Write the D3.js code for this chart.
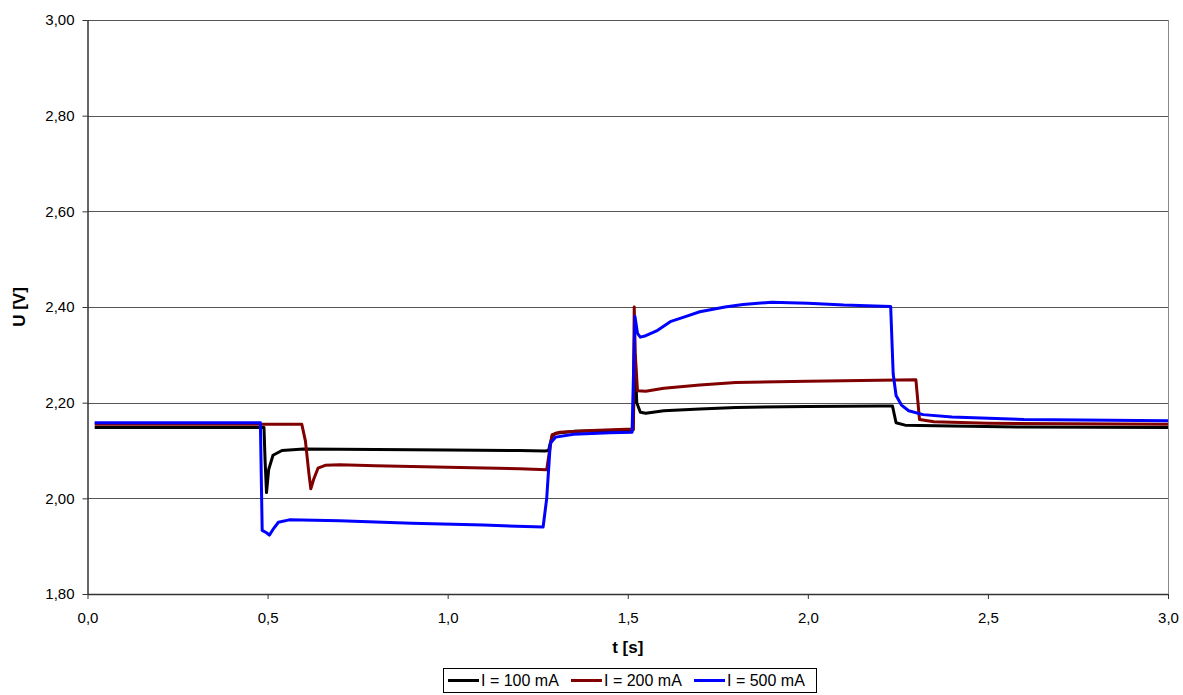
<!DOCTYPE html>
<html>
<head>
<script src="https://d3js.org/d3.v7.min.js"></script>
<style>
  body { margin: 0; background: #fff; }
  text { font-family: "Liberation Sans", Arial, sans-serif; }
</style>
</head>
<body>
<svg id="chart" width="1183" height="695"></svg>
<script>
// time [s] and voltage [V] for each current
var t100 = [0.02, 0.49, 0.493, 0.497, 0.503, 0.515, 0.54, 0.6, 0.8, 1.0, 1.2, 1.27, 1.28, 1.29, 1.30, 1.35, 1.45, 1.515, 1.52, 1.525, 1.535, 1.55, 1.6, 1.7, 1.8, 2.0, 2.2, 2.235, 2.245, 2.27, 2.4, 2.6, 3.0];
var u100 = [2.148, 2.148, 2.08, 2.012, 2.06, 2.09, 2.10, 2.103, 2.102, 2.101, 2.100, 2.099, 2.10, 2.13, 2.136, 2.14, 2.142, 2.143, 2.30, 2.20, 2.18, 2.178, 2.183, 2.187, 2.19, 2.192, 2.193, 2.193, 2.158, 2.153, 2.151, 2.149, 2.148];

var t200 = [0.02, 0.595, 0.605, 0.615, 0.62, 0.628, 0.64, 0.66, 0.7, 0.8, 1.0, 1.2, 1.275, 1.283, 1.29, 1.31, 1.4, 1.515, 1.518, 1.521, 1.527, 1.55, 1.6, 1.7, 1.8, 2.0, 2.2, 2.3, 2.31, 2.35, 2.5, 3.0];
var u200 = [2.155, 2.155, 2.12, 2.05, 2.02, 2.04, 2.063, 2.069, 2.07, 2.068, 2.065, 2.062, 2.06, 2.10, 2.133, 2.138, 2.142, 2.145, 2.40, 2.30, 2.225, 2.224, 2.23, 2.237, 2.242, 2.245, 2.247, 2.248, 2.165, 2.16, 2.157, 2.155];

var t500 = [0.02, 0.48, 0.485, 0.497, 0.505, 0.515, 0.53, 0.56, 0.7, 0.9, 1.1, 1.265, 1.275, 1.285, 1.30, 1.35, 1.45, 1.512, 1.52, 1.527, 1.535, 1.55, 1.58, 1.62, 1.66, 1.7, 1.77, 1.82, 1.9, 2.0, 2.1, 2.23, 2.237, 2.245, 2.26, 2.28, 2.32, 2.4, 2.6, 3.0];
var u500 = [2.158, 2.158, 1.933, 1.928, 1.923, 1.935, 1.95, 1.955, 1.953, 1.948, 1.944, 1.94, 2.00, 2.115, 2.128, 2.134, 2.137, 2.138, 2.38, 2.345, 2.337, 2.34, 2.35, 2.37, 2.38, 2.39, 2.40, 2.405, 2.41, 2.408, 2.404, 2.401, 2.26, 2.215, 2.195, 2.183, 2.175, 2.17, 2.165, 2.162];

var labels = ["I = 100 mA", "I = 200 mA", "I = 500 mA"];
var colors = ["#000000", "#800000", "#0000ff"];
var yTicks = [1.8, 2.0, 2.2, 2.4, 2.6, 2.8, 3.0];
var xTicks = [0, 0.5, 1.0, 1.5, 2.0, 2.5, 3.0];

var series = [
  t100.map(function(t, i) { return {t: t, u: u100[i]}; }),
  t200.map(function(t, i) { return {t: t, u: u200[i]}; }),
  t500.map(function(t, i) { return {t: t, u: u500[i]}; })
];

var plotL = 87.5, plotR = 1168, plotT = 20, plotB = 594;
var svg = d3.select("#chart");

var x = d3.scaleLinear().domain([0, 3]).range([plotL, plotR]);
var y = d3.scaleLinear().domain([1.8, 3.0]).range([plotB, plotT]);
var comma = function(d, n) { return d.toFixed(n).replace(".", ","); };

// gridlines
svg.append("g").selectAll("line")
  .data(yTicks.slice(1))
  .enter().append("line")
  .attr("x1", plotL).attr("x2", plotR)
  .attr("y1", function(d) { return Math.round(y(d)) + 0.5; })
  .attr("y2", function(d) { return Math.round(y(d)) + 0.5; })
  .attr("stroke", "#555").attr("stroke-width", 1);

// right border
svg.append("line")
  .attr("x1", plotR + 0.5).attr("x2", plotR + 0.5)
  .attr("y1", plotT).attr("y2", plotB)
  .attr("stroke", "#888");

// axes
var yAxis = svg.append("g")
  .attr("transform", "translate(" + plotL + ",0)")
  .call(d3.axisLeft(y).tickValues(yTicks).tickSize(5).tickPadding(8)
    .tickFormat(function(d) { return comma(d, 2); }));
var xAxis = svg.append("g")
  .attr("transform", "translate(0," + plotB + ")")
  .call(d3.axisBottom(x).tickValues(xTicks).tickSize(5).tickPadding(13)
    .tickFormat(function(d) { return comma(d, 1); }));
[yAxis, xAxis].forEach(function(a) {
  a.select(".domain").attr("stroke", "#333").attr("stroke-width", 1.5);
  a.selectAll(".tick line").attr("stroke", "#333");
  a.selectAll("text").attr("fill", "#000").style("font-size", "15px")
    .style("font-family", "'Liberation Sans', Arial, sans-serif");
});
xAxis.select(".domain").attr("d", "M" + plotL + ",0.5H" + plotR);
yAxis.select(".domain").attr("d", "M0.5," + plotT + "V" + plotB);

// lines
var line = d3.line()
  .x(function(d) { return x(d.t); })
  .y(function(d) { return y(d.u); });

series.forEach(function(s, i) {
  svg.append("path")
    .datum(s)
    .attr("fill", "none")
    .attr("stroke", colors[i])
    .attr("stroke-width", 3)
    .attr("stroke-linejoin", "round")
    .attr("d", line);
});

// axis titles
svg.append("text")
  .attr("x", (plotL + plotR) / 2).attr("y", 653)
  .attr("text-anchor", "middle")
  .style("font-size", "17px").style("font-weight", "bold")
  .text("t [s]");
svg.append("text")
  .attr("transform", "translate(25," + ((plotT + plotB) / 2) + ") rotate(-90)")
  .attr("text-anchor", "middle")
  .style("font-size", "17px").style("font-weight", "bold")
  .text("U [V]");

// legend
var lg = svg.append("g").attr("transform", "translate(443,668)");
lg.append("rect")
  .attr("x", 0.5).attr("y", 0.5).attr("width", 373).attr("height", 24)
  .attr("fill", "#fff").attr("stroke", "#000");
var offs = [5, 128, 251];
labels.forEach(function(l, i) {
  var g = lg.append("g").attr("transform", "translate(" + offs[i] + ",0)");
  g.append("line").attr("x1", 0).attr("x2", 31).attr("y1", 12.5).attr("y2", 12.5)
    .attr("stroke", colors[i]).attr("stroke-width", 3);
  g.append("text").attr("x", 33).attr("y", 18)
    .style("font-size", "16px").text(l);
});
</script>
</body>
</html>
